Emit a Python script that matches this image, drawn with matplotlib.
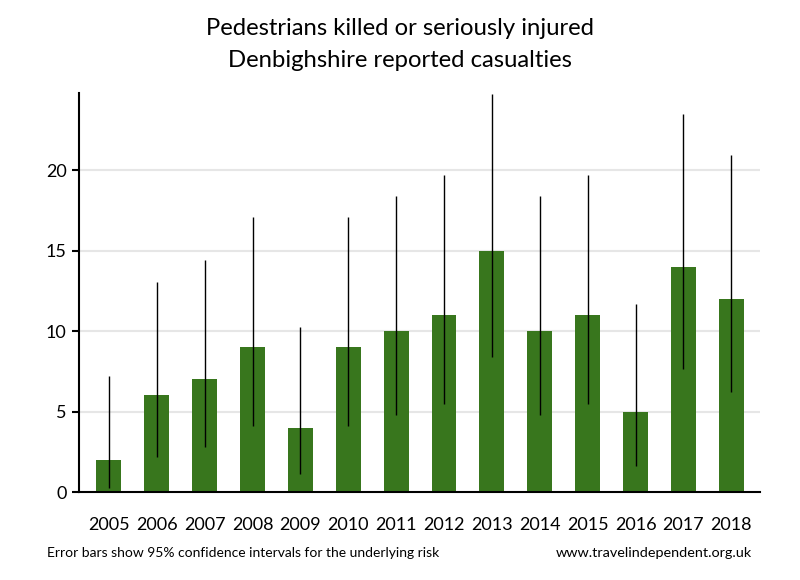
import matplotlib
matplotlib.use("Agg")
import matplotlib.pyplot as plt

plt.rcParams['font.family'] = ['Lato', 'DejaVu Sans']

years = ["2005", "2006", "2007", "2008", "2009", "2010", "2011", "2012",
         "2013", "2014", "2015", "2016", "2017", "2018"]
casualties = [2, 6, 7, 9, 4, 9, 10, 11, 15, 10, 11, 5, 14, 12]
ci_low = [0.24, 2.2, 2.81, 4.12, 1.09, 4.12, 4.8, 5.49, 8.4, 4.8, 5.49, 1.62, 7.65, 6.2]
ci_high = [7.22, 13.06, 14.42, 17.08, 10.24, 17.08, 18.39, 19.68, 24.74, 18.39, 19.68, 11.67, 23.49, 20.96]
yticks = [0, 5, 10, 15, 20]

fig = plt.figure(figsize=(8, 5.8), dpi=100)
ax = fig.add_axes([0.09875, 0.1517, 0.85125, 0.688])

x = list(range(len(years)))
ax.bar(x, casualties, width=0.52, color="#38761d", zorder=2)
ax.vlines(x, ci_low, ci_high, color="black", linewidth=1.0, zorder=3)

ax.set_xlim(-0.625, 13.6)
ax.set_ylim(0, 24.8)
ax.set_yticks(yticks)
ax.set_yticklabels([str(v) for v in yticks])
ax.set_xticks(x)
ax.set_xticklabels(years)

for v in yticks[1:]:
    ax.axhline(v, color="#e6e6e6", linewidth=1.5, zorder=1)

for s in ["top", "right"]:
    ax.spines[s].set_visible(False)
ax.spines["left"].set_linewidth(1.5)
ax.spines["bottom"].set_linewidth(1.5)
ax.tick_params(axis="y", length=5, width=1.5, labelsize=13, pad=4)
ax.tick_params(axis="x", length=0, labelsize=13, pad=18)

fig.text(0.5, 0.951, "Pedestrians killed or seriously injured",
         ha="center", va="center", fontsize=17.2)
fig.text(0.5, 0.896, "Denbighshire reported casualties",
         ha="center", va="center", fontsize=17.2)
fig.text(0.059, 0.047, "Error bars show 95% confidence intervals for the underlying risk",
         ha="left", va="center", fontsize=10)
fig.text(0.94, 0.047, "www.travelindependent.org.uk",
         ha="right", va="center", fontsize=10.4)

fig.savefig("out.png", dpi=100)
